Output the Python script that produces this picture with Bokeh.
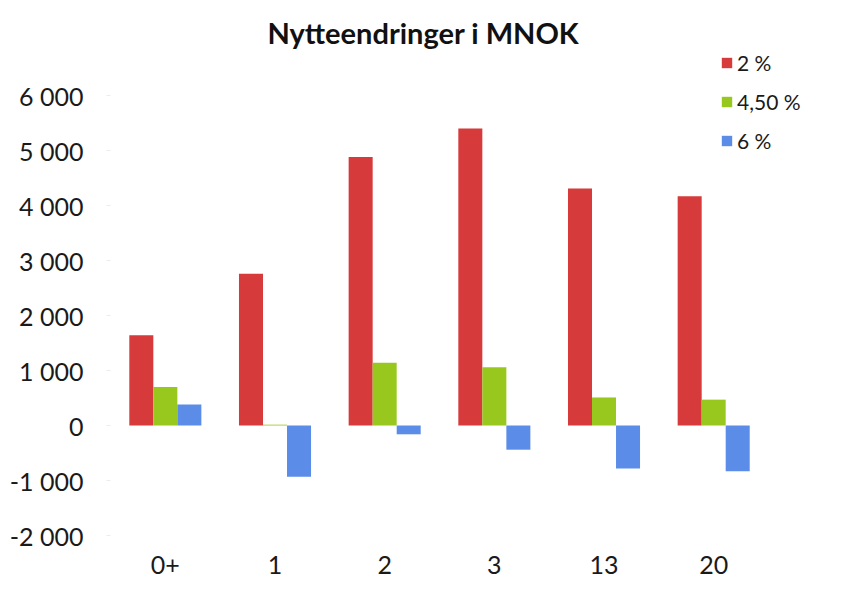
from bokeh.plotting import figure
from bokeh.models import (Range1d, FixedTicker, Legend, LegendItem,
                          ColumnDataSource)
from bokeh.embed import file_html
from bokeh.resources import INLINE

categories = ["0+", "1", "2", "3", "13", "20"]
series_names = ["2 %", "4,50 %", "6 %"]
values_2pct = [1640, 2760, 4880, 5400, 4310, 4170]
values_450pct = [700, 15, 1140, 1060, 510, 470]
values_6pct = [380, -930, -160, -440, -780, -830]
y_ticks = [-2000, -1000, 0, 1000, 2000, 3000, 4000, 5000, 6000]
y_tick_labels = ["-2 000", "-1 000", "0", "1 000", "2 000", "3 000",
                 "4 000", "5 000", "6 000"]
colors = ["#D63A3A", "#98C81E", "#5B8DE8"]

# layout (pixels)
W, H = 832, 579
left, right, top, bottom = 110, 0, 49, 44
cat_px = 109.67            # pixels per category slot
px_per_1000 = 55.0
frame_w = W - left - right
frame_h = H - top - bottom
y_min = -2000
y_max = y_min + frame_h / px_per_1000 * 1000
x_max = frame_w / cat_px

bw = 0.219
pos = [i + 0.5 for i in range(len(categories))]
source = ColumnDataSource(data=dict(
    x1=[p_ - bw for p_ in pos], x2=pos, x3=[p_ + bw for p_ in pos],
    s1=values_2pct, s2=values_450pct, s3=values_6pct))

p = figure(width=W, height=H, x_range=Range1d(0, x_max),
           y_range=Range1d(y_min, y_max), output_backend="svg",
           toolbar_location=None, min_border_left=left, min_border_right=right,
           min_border_top=top, min_border_bottom=bottom)

r1 = p.vbar(x="x1", top="s1", width=bw, source=source, color=colors[0], line_color=None)
r2 = p.vbar(x="x2", top="s2", width=bw, source=source, color=colors[1], line_color=None)
r3 = p.vbar(x="x3", top="s3", width=bw, source=source, color=colors[2], line_color=None)

p.title.text = "Nytteendringer i MNOK"
p.title.align = "left"
p.title.offset = 157
p.title.text_font = "Lato"
p.title.text_font_size = "29px"
p.title.text_font_style = "bold"
p.title.text_color = "#111111"
p.title.standoff = 0

p.xgrid.grid_line_color = None
p.ygrid.grid_line_color = None
p.outline_line_color = None
p.background_fill_color = "white"
p.border_fill_color = "white"

p.yaxis.ticker = FixedTicker(ticks=y_ticks)
p.yaxis.major_label_overrides = {t: l for t, l in zip(y_ticks, y_tick_labels)}
p.yaxis.major_label_text_font = "Lato"
p.yaxis.major_label_text_font_size = "25px"
p.yaxis.major_label_text_color = "#1a1a1a"
p.yaxis.axis_line_color = None
p.yaxis.major_tick_line_color = "#ececec"
p.yaxis.major_tick_out = 4
p.yaxis.major_tick_in = 0
p.yaxis.minor_tick_line_color = None
p.yaxis.major_label_standoff = 23

p.xaxis.ticker = FixedTicker(ticks=pos)
p.xaxis.major_label_overrides = {t: c for t, c in zip(pos, categories)}
p.xaxis.major_label_text_font = "Lato"
p.xaxis.major_label_text_font_size = "25px"
p.xaxis.major_label_text_color = "#1a1a1a"
p.xaxis.axis_line_color = None
p.xaxis.major_tick_line_color = None
p.xaxis.minor_tick_line_color = None
p.xaxis.major_label_standoff = 14

# legend top-left at canvas (720, 50)
legend = Legend(items=[LegendItem(label=series_names[0], renderers=[r1]),
                       LegendItem(label=series_names[1], renderers=[r2]),
                       LegendItem(label=series_names[2], renderers=[r3])],
                location=(720 - left, frame_h - (50 - top) - 103))
legend.label_text_font = "Lato"
legend.label_text_font_size = "21px"
legend.label_text_color = "#1a1a1a"
legend.glyph_width = 13
legend.glyph_height = 13
legend.label_height = 25
legend.spacing = 14
legend.label_standoff = 4
legend.padding = 0
legend.margin = 0
legend.border_line_color = None
legend.background_fill_alpha = 0
p.add_layout(legend, "center")

open("out.html", "w").write(file_html(p, INLINE))
